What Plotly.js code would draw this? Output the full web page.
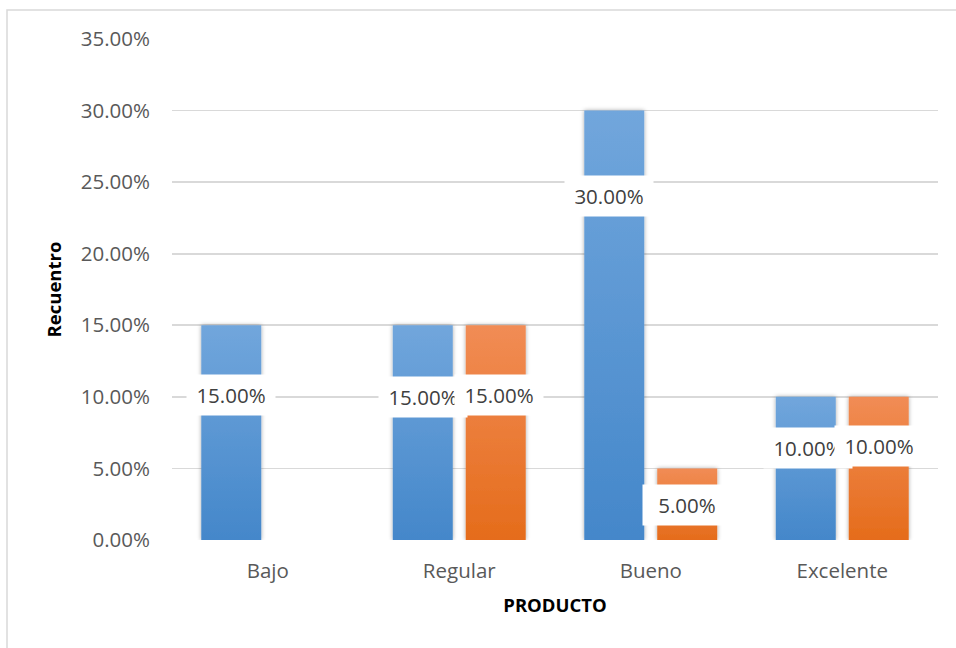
<!DOCTYPE html>
<html><head><meta charset="utf-8">
<script src="https://cdn.plot.ly/plotly-3.0.1.min.js"></script>
<style>html,body{margin:0;padding:0;background:#fff}#c{width:956px;height:648px}</style>
</head><body><div id="c"></div>
<script>
const categories = ["Bajo", "Regular", "Bueno", "Excelente"];
const serie1 = [15, 15, 30, 10];
const serie2 = [null, 15, 5, 10];
const yTicks = [0, 5, 10, 15, 20, 25, 30, 35];
const yTickLabels = ["0.00%", "5.00%", "10.00%", "15.00%", "20.00%", "25.00%", "30.00%", "35.00%"];

// label placement (Excel-style moved labels): [category index offset, y position in axis units]
const place1 = [[-0.19, 10.1], [-0.19, 10.0], [-0.22, 24.0], [-0.18, 6.4]];
const place2 = [null, [0.21, 10.1], [0.19, 2.45], [0.19, 6.6]];

const font = "Open Sans, Roboto, sans-serif";
const blue = "#5B9BD5", orange = "#ED7D31";

const traces = [
  {type: "bar", x: categories, y: serie1, name: "s1", marker: {color: blue}, hoverinfo: "none"},
  {type: "bar", x: categories, y: serie2, name: "s2", marker: {color: orange}, hoverinfo: "none"}
];

const annotations = [];
function addLabels(vals, place) {
  vals.forEach((v, i) => {
    if (v === null || !place[i]) return;
    annotations.push({
      xref: "x", yref: "y", x: i + place[i][0], y: place[i][1],
      text: v.toFixed(2) + "%", showarrow: false,
      bgcolor: "#ffffff", width: 86, height: 38,
      font: {family: font, size: 20.5, color: "#404040"}
    });
  });
}
addLabels(serie1, place1);
addLabels(serie2, place2);

const layout = {
  width: 956, height: 648,
  margin: {l: 172, r: 18, t: 39, b: 108},
  paper_bgcolor: "#fff", plot_bgcolor: "#fff",
  showlegend: false,
  barmode: "group", bargap: 0.238, bargroupgap: 0.178,
  font: {family: font, color: "#595959"},
  xaxis: {
    type: "category", showgrid: false, ticks: "", showline: false,
    tickfont: {family: font, size: 20.5, color: "#595959"},
    ticklabelstandoff: 16,
    title: {text: "<b>PRODUCTO</b>", font: {family: font, size: 18.5, color: "#000"}, standoff: 16}
  },
  yaxis: {
    range: [0, 35], tickvals: yTicks, ticktext: yTickLabels,
    showgrid: true, gridcolor: "#D9D9D9", gridwidth: 1.6,
    zeroline: false, showline: false, ticks: "",
    tickfont: {family: font, size: 20.5, color: "#595959"},
    ticklabelstandoff: 21,
    title: {text: "<b>Recuentro</b>", font: {family: font, size: 18.5, color: "#000"}, standoff: 14}
  },
  annotations: annotations,
  shapes: [{
    type: "rect", xref: "paper", yref: "paper",
    x0: (7 - 172) / 766, x1: (970 - 172) / 766,
    y0: (540 - 670) / 501, y1: (540 - 10) / 501,
    line: {color: "#D9D9D9", width: 1.5}, fillcolor: "rgba(0,0,0,0)", layer: "below"
  }]
};

Plotly.newPlot("c", traces, layout, {staticPlot: true}).then(gd => {
  const svg = gd.querySelector("svg.main-svg");
  const ns = "http://www.w3.org/2000/svg";
  let defs = svg.querySelector("defs");
  function grad(id, top, bottom) {
    const g = document.createElementNS(ns, "linearGradient");
    g.setAttribute("id", id); g.setAttribute("x1", "0"); g.setAttribute("y1", "0");
    g.setAttribute("x2", "0"); g.setAttribute("y2", "1");
    [[0, top], [1, bottom]].forEach(([o, c]) => {
      const s = document.createElementNS(ns, "stop");
      s.setAttribute("offset", o); s.setAttribute("stop-color", c); g.appendChild(s);
    });
    defs.appendChild(g);
  }
  grad("gblue", "#71A6DC", "#4487CA");
  grad("gorange", "#F18C55", "#E56C1B");
  const f = document.createElementNS(ns, "filter");
  f.setAttribute("id", "shadow"); f.setAttribute("x", "-20%"); f.setAttribute("y", "-5%");
  f.setAttribute("width", "140%"); f.setAttribute("height", "110%");
  f.innerHTML = '<feDropShadow dx="0" dy="0" stdDeviation="2" flood-color="#000" flood-opacity="0.35"/>';
  defs.appendChild(f);
  const traceGroups = gd.querySelectorAll(".barlayer .trace");
  traceGroups.forEach((tg, ti) => {
    tg.querySelectorAll("path").forEach(p => {
      p.style.fill = ti === 0 ? "url(#gblue)" : "url(#gorange)";
      p.setAttribute("filter", "url(#shadow)");
    });
  });
});
</script>
</body></html>
